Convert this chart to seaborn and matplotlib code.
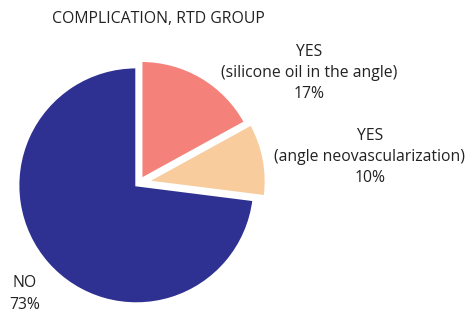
import matplotlib
matplotlib.use("Agg")
import matplotlib.pyplot as plt
import seaborn as sns

# data
labels = ["YES\n(silicone oil in the angle)", "YES\n(angle neovascularization)", "NO"]
shares = [17, 10, 73]
colors = ["#F4827A", "#F8CC9D", "#2E3191"]
title = "COMPLICATION, RTD GROUP"

sns.set_theme(style="white")
plt.rcParams["font.family"] = ["Open Sans", "DejaVu Sans"]

fig = plt.figure(figsize=(4.7, 3.15), dpi=100)
# square axes so radius 1 ~ 118 px, pie centre ~ (139, 183) px
r_px = 118
w = 2.5 * r_px
ax = fig.add_axes([(139 - w / 2) / 470, (315 - 183 - w / 2) / 315, w / 470, w / 315])

wedges, texts = ax.pie(
    shares, colors=colors, startangle=90, counterclock=False,
    explode=(0.04, 0.075, 0.03),
    labels=[f"{l}\n{s}%" for l, s in zip(labels, shares)],
    wedgeprops=dict(edgecolor="white", linewidth=1.5),
    textprops=dict(fontsize=11.3, color="#222222", ha="center", va="center", linespacing=1.45),
)
ax.set_xlim(-1.25, 1.25)
ax.set_ylim(-1.25, 1.25)

# move labels to where the reference puts them (figure pixels)
label_px = [(309, 73), (370, 157), (25, 294)]
for t, (px, py) in zip(texts, label_px):
    t.set_transform(fig.transFigure)
    t.set_position((px / 470, 1 - py / 315))
    t.set_ha("center")

fig.text(52 / 470, 1 - 19 / 315, title, fontsize=11.4, color="#222222", ha="left", va="center")

fig.savefig("out.png", dpi=100)
